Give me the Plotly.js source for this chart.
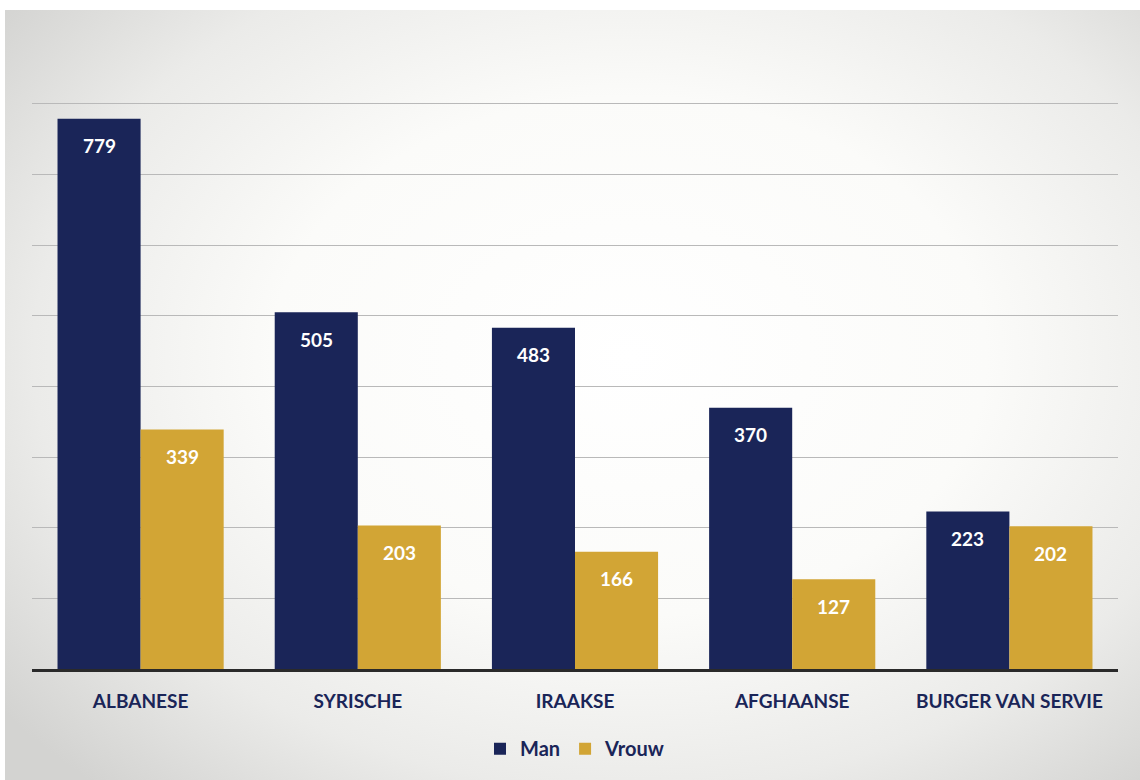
<!DOCTYPE html>
<html>
<head>
<meta charset="utf-8">
<script src="https://cdn.plot.ly/plotly-3.0.1.min.js"></script>
<style>
html,body{margin:0;padding:0;background:#fff;}
#bg{position:absolute;left:5px;top:10px;width:1135px;height:770px;
background:radial-gradient(ellipse 70% 75% at 55% 45%, #ffffff 0%, #fbfbf9 45%, #ebebe9 75%, #d3d3d1 100%);}
#chart{position:absolute;left:0;top:0;width:1140px;height:780px;}
</style>
</head>
<body>
<div id="bg"></div>
<div id="chart"></div>
<script>
var categories = ["ALBANESE", "SYRISCHE", "IRAAKSE", "AFGHAANSE", "BURGER VAN SERVIE"];
var manValues = [779, 505, 483, 370, 223];
var vrouwValues = [339, 203, 166, 127, 202];
var seriesNames = ["Man", "Vrouw"];

var navy = "#1a2558";
var gold = "#d2a535";
var fontFam = "Lato, 'Open Sans', sans-serif";
var bargap = 0.235;
var half = (1 - bargap) / 4;

var traces = [
  {type: "bar", name: seriesNames[0], x: categories, y: manValues, marker: {color: navy}, hoverinfo: "skip"},
  {type: "bar", name: seriesNames[1], x: categories, y: vrouwValues, marker: {color: gold}, hoverinfo: "skip"}
];

var annotations = [];
categories.forEach(function (c, i) {
  annotations.push({x: i - half, y: manValues[i], xref: "x", yref: "y", text: String(manValues[i]),
    showarrow: false, yshift: -27, yanchor: "middle",
    font: {family: fontFam, size: 19, color: "#ffffff", weight: "bold"}});
  annotations.push({x: i + half, y: vrouwValues[i], xref: "x", yref: "y", text: String(vrouwValues[i]),
    showarrow: false, yshift: -27, yanchor: "middle",
    font: {family: fontFam, size: 19, color: "#ffffff", weight: "bold"}});
});

var layout = {
  width: 1140, height: 780,
  paper_bgcolor: "rgba(0,0,0,0)",
  plot_bgcolor: "rgba(0,0,0,0)",
  margin: {l: 32, r: 22, t: 100, b: 111},
  barmode: "group",
  bargap: bargap,
  bargroupgap: 0,
  showlegend: true,
  legend: {orientation: "h", x: 0.5, xanchor: "center", y: -0.14, yanchor: "middle",
    font: {family: fontFam, size: 20, color: navy, weight: "bold"}, itemwidth: 30, traceorder: "normal"},
  xaxis: {
    showline: true, linecolor: "#2a2a2a", linewidth: 3,
    ticks: "", tickfont: {family: fontFam, size: 19, color: navy, weight: "bold"},
    ticklabelstandoff: 13, showgrid: false
  },
  yaxis: {
    range: [0, 805.5], tick0: 0, dtick: 100, showticklabels: false, ticks: "",
    showgrid: true, gridcolor: "#b9b9b9", gridwidth: 1, zeroline: false
  },
  annotations: annotations,
  font: {family: fontFam}
};

Plotly.newPlot("chart", traces, layout, {displayModeBar: false, staticPlot: true});
</script>
</body>
</html>
